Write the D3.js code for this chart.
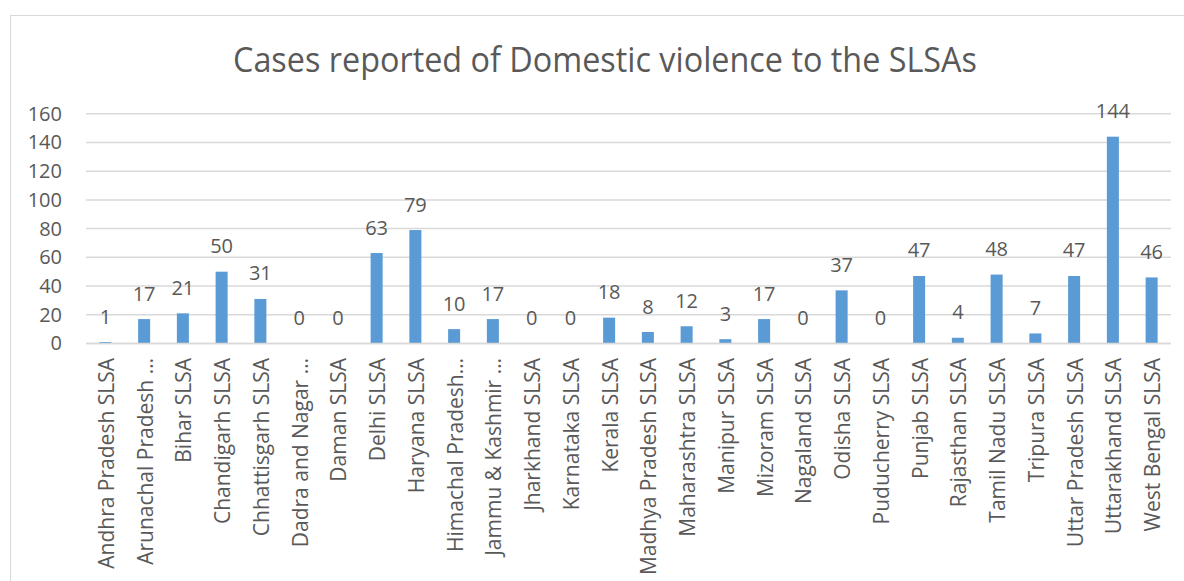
<!DOCTYPE html>
<html>
<head>
<meta charset="utf-8">
<script src="https://cdn.jsdelivr.net/npm/d3@7"></script>
<style>
  html, body { margin: 0; padding: 0; background: #fff; }
  svg { display: block; }
  text { font-family: "Open Sans", "Noto Sans", sans-serif; fill: #595959; }
</style>
</head>
<body>
<svg id="chart" width="1184" height="581"></svg>
<script>
// State Legal Services Authorities and domestic violence cases reported to each
const categories = [
  "Andhra Pradesh SLSA", "Arunachal Pradesh …", "Bihar SLSA", "Chandigarh SLSA",
  "Chhattisgarh SLSA", "Dadra and Nagar …", "Daman SLSA", "Delhi SLSA",
  "Haryana SLSA", "Himachal Pradesh…", "Jammu & Kashmir …", "Jharkhand SLSA",
  "Karnataka SLSA", "Kerala SLSA", "Madhya Pradesh SLSA", "Maharashtra SLSA",
  "Manipur SLSA", "Mizoram SLSA", "Nagaland SLSA", "Odisha SLSA",
  "Puducherry SLSA", "Punjab SLSA", "Rajasthan SLSA", "Tamil Nadu SLSA",
  "Tripura SLSA", "Uttar Pradesh SLSA", "Uttarakhand SLSA", "West Bengal SLSA"
];
const cases = [1, 17, 21, 50, 31, 0, 0, 63, 79, 10, 17, 0, 0, 18, 8, 12, 3, 17, 0, 37, 0, 47, 4, 48, 7, 47, 144, 46];
const yTicks = [0, 20, 40, 60, 80, 100, 120, 140, 160];
const title = "Cases reported of Domestic violence to the SLSAs";

const svg = d3.select("#chart");
const W = 1184, H = 581;
const plot = { left: 86, right: 1171, top: 113.7, bottom: 343.5 };

// chart area frame
svg.append("rect")
  .attr("x", 10.5).attr("y", 15.5)
  .attr("width", W + 10).attr("height", H + 10)
  .attr("fill", "#fff").attr("stroke", "#d9d9d9").attr("stroke-width", 1);

svg.append("text")
  .attr("x", 605).attr("y", 72)
  .attr("text-anchor", "middle")
  .attr("textLength", 744)
  .attr("lengthAdjust", "spacingAndGlyphs")
  .style("font-size", "34px")
  .text(title);

const x = d3.scaleBand()
  .domain(categories)
  .range([plot.left, plot.right])
  .paddingInner(0.69).paddingOuter(0.345);

const y = d3.scaleLinear().domain([0, 160]).range([plot.bottom, plot.top]);

// horizontal gridlines
svg.append("g")
  .selectAll("line").data(yTicks).join("line")
  .attr("x1", plot.left).attr("x2", plot.right)
  .attr("y1", d => y(d)).attr("y2", d => y(d))
  .attr("stroke", "#d9d9d9").attr("stroke-width", 1.5);

// value axis
const yAxis = svg.append("g")
  .attr("transform", `translate(${plot.left},0)`)
  .call(d3.axisLeft(y).tickValues(yTicks).tickSize(0).tickPadding(24));
yAxis.select(".domain").remove();
yAxis.attr("font-size", null).attr("font-family", null);
yAxis.selectAll("text")
  .style("font-size", "20px")
  .attr("fill", "#595959");

// bars
svg.append("g")
  .selectAll("rect").data(categories).join("rect")
  .attr("x", d => x(d))
  .attr("width", x.bandwidth())
  .attr("y", (d, i) => y(cases[i]))
  .attr("height", (d, i) => y(0) - y(cases[i]))
  .attr("fill", "#5b9bd5");

// value labels
svg.append("g")
  .selectAll("text").data(categories).join("text")
  .attr("x", d => x(d) + x.bandwidth() / 2)
  .attr("y", (d, i) => y(cases[i]) - 18.5)
  .attr("text-anchor", "middle")
  .style("font-size", "20px")
  .text((d, i) => cases[i]);

// category axis baseline
svg.append("line")
  .attr("x1", plot.left).attr("x2", plot.right)
  .attr("y1", plot.bottom).attr("y2", plot.bottom)
  .attr("stroke", "#d9d9d9").attr("stroke-width", 1.5);

// rotated category labels
svg.append("g")
  .selectAll("text").data(categories).join("text")
  .attr("transform", d => `translate(${x(d) + x.bandwidth() / 2 + 1},358) rotate(-90)`)
  .attr("text-anchor", "end")
  .attr("dy", "0.36em")
  .style("font-size", "21px")
  .text(d => d);
</script>
</body>
</html>
